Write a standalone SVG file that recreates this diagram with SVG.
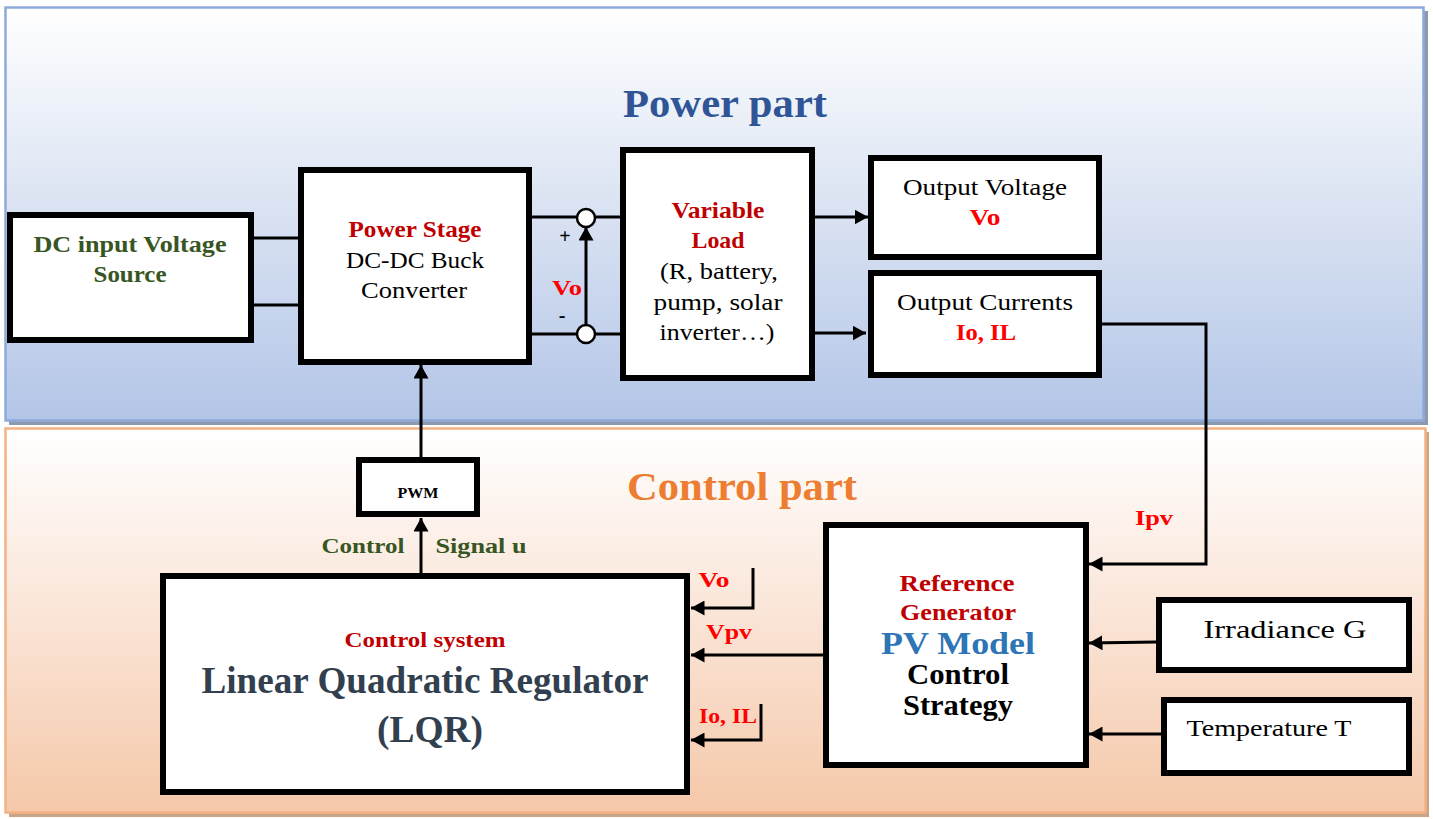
<svg xmlns="http://www.w3.org/2000/svg" width="1433" height="819" viewBox="0 0 1433 819">
<defs>
<linearGradient id="gBlue" x1="0" y1="0" x2="0" y2="1">
<stop offset="0" stop-color="#ffffff"/>
<stop offset="0.5" stop-color="#d9e2f2"/>
<stop offset="1" stop-color="#b3c5e7"/>
</linearGradient>
<linearGradient id="gPeach" x1="0" y1="0" x2="0" y2="1">
<stop offset="0" stop-color="#ffffff"/>
<stop offset="0.5" stop-color="#fae4d6"/>
<stop offset="1" stop-color="#f5c8a9"/>
</linearGradient>
<marker id="arr" viewBox="0 0 10 10" preserveAspectRatio="none" refX="10" refY="5" markerWidth="4.5" markerHeight="5" markerUnits="strokeWidth" orient="auto">
<path d="M0,0 L10,5 L0,10 z" fill="#000"/>
</marker>
</defs>
<style>
.box{fill:#fff;stroke:#000;stroke-width:6}
.ln{fill:none;stroke:#000;stroke-width:3}
.t{font-family:"Liberation Serif","DejaVu Serif",serif;text-anchor:middle}
.b{font-weight:bold}
.red{fill:#c00000}
.rr{fill:#ff0000;font-weight:bold;font-size:21px}
</style>
<rect width="1433" height="819" fill="#ffffff"/>
<g id="power-panel">
<rect x="9" y="11" width="1419" height="414" fill="#8c99ae"/>
<rect x="5.5" y="7.5" width="1418" height="413" fill="url(#gBlue)" stroke="#8eaadb" stroke-width="2.5"/>
<text class="t b" x="725" y="117" font-size="39" fill="#2f5597" textLength="204" lengthAdjust="spacingAndGlyphs">Power part</text>
</g>
<g id="control-panel">
<rect x="9" y="432" width="1420" height="385" fill="#c8a48a"/>
<rect x="5.5" y="428.5" width="1420" height="384" fill="url(#gPeach)" stroke="#f4b183" stroke-width="2.5"/>
<text class="t b" x="742" y="500" font-size="39" fill="#ed7d31" textLength="230" lengthAdjust="spacingAndGlyphs">Control part</text>
</g>
<g id="connectors">
<line class="ln" x1="251" y1="238" x2="298" y2="238"/>
<line class="ln" x1="251" y1="305" x2="298" y2="305"/>
<line class="ln" x1="530" y1="217" x2="620" y2="217"/>
<line class="ln" x1="530" y1="334" x2="620" y2="334"/>
<line class="ln" x1="586" y1="334" x2="586" y2="227" marker-end="url(#arr)"/>
<circle cx="586" cy="218" r="9" fill="#fff" stroke="#000" stroke-width="2.5"/>
<circle cx="586" cy="334" r="9" fill="#fff" stroke="#000" stroke-width="2.5"/>
<line class="ln" x1="815" y1="217" x2="868" y2="217" marker-end="url(#arr)"/>
<line class="ln" x1="815" y1="333" x2="866" y2="333" marker-end="url(#arr)"/>
<polyline class="ln" points="1102,324 1206,324 1206,564 1089,564" marker-end="url(#arr)"/>
<line class="ln" x1="421" y1="475" x2="421" y2="365" marker-end="url(#arr)"/>
<line class="ln" x1="421" y1="576" x2="421" y2="518" marker-end="url(#arr)"/>
<polyline class="ln" points="753,568 753,608 691,608" marker-end="url(#arr)"/>
<line class="ln" x1="825" y1="655" x2="691" y2="655" marker-end="url(#arr)"/>
<polyline class="ln" points="761,704 761,740 691,740" marker-end="url(#arr)"/>
<line class="ln" x1="1156" y1="642" x2="1089" y2="643" marker-end="url(#arr)"/>
<line class="ln" x1="1161" y1="734" x2="1089" y2="734" marker-end="url(#arr)"/>
<text class="t b" x="565" y="243" font-size="20">+</text>
<text class="t b" x="562" y="322" font-size="20">-</text>
<text class="t rr" x="567" y="295" textLength="30" lengthAdjust="spacingAndGlyphs">Vo</text>
<text class="t rr" x="1154" y="525" textLength="38" lengthAdjust="spacingAndGlyphs">Ipv</text>
<text class="t rr" x="714" y="587" textLength="31" lengthAdjust="spacingAndGlyphs">Vo</text>
<text class="t rr" x="729" y="639" textLength="46" lengthAdjust="spacingAndGlyphs">Vpv</text>
<text class="t rr" x="728" y="723" textLength="58" lengthAdjust="spacingAndGlyphs">Io, IL</text>
<text class="t b" x="363" y="553" font-size="22" fill="#375623" textLength="83" lengthAdjust="spacingAndGlyphs">Control</text>
<text class="t b" x="481" y="553" font-size="22" fill="#375623" textLength="91" lengthAdjust="spacingAndGlyphs">Signal u</text>
</g>
<g id="dc-source">
<rect class="box" x="10" y="215" width="241" height="125"/>
<text class="t b" x="130" y="252" font-size="23" fill="#375623" textLength="193" lengthAdjust="spacingAndGlyphs">DC input Voltage</text>
<text class="t b" x="130" y="282" font-size="23" fill="#375623" textLength="73" lengthAdjust="spacingAndGlyphs">Source</text>
</g>
<g id="power-stage">
<rect class="box" x="301" y="170" width="228" height="192"/>
<text class="t b red" x="415" y="237" font-size="23" textLength="133" lengthAdjust="spacingAndGlyphs">Power Stage</text>
<text class="t" x="415" y="268" font-size="23" textLength="138" lengthAdjust="spacingAndGlyphs">DC-DC Buck</text>
<text class="t" x="414" y="298" font-size="23" textLength="106" lengthAdjust="spacingAndGlyphs">Converter</text>
</g>
<g id="variable-load">
<rect class="box" x="623" y="150" width="189" height="228"/>
<text class="t b red" x="718" y="218" font-size="23" textLength="93" lengthAdjust="spacingAndGlyphs">Variable</text>
<text class="t b red" x="718" y="248" font-size="23" textLength="53" lengthAdjust="spacingAndGlyphs">Load</text>
<text class="t" x="719" y="279" font-size="23" textLength="118" lengthAdjust="spacingAndGlyphs">(R, battery,</text>
<text class="t" x="718" y="310" font-size="23" textLength="129" lengthAdjust="spacingAndGlyphs">pump, solar</text>
<text class="t" x="717" y="340" font-size="23" textLength="115" lengthAdjust="spacingAndGlyphs">inverter…)</text>
</g>
<g id="output-voltage">
<rect class="box" x="871" y="158" width="228" height="99"/>
<text class="t" x="985" y="195" font-size="23" textLength="164" lengthAdjust="spacingAndGlyphs">Output Voltage</text>
<text class="t b" x="985" y="225" font-size="23" fill="#ff0000" textLength="31" lengthAdjust="spacingAndGlyphs">Vo</text>
</g>
<g id="output-currents">
<rect class="box" x="871" y="273" width="228" height="102"/>
<text class="t" x="985" y="310" font-size="23" textLength="176" lengthAdjust="spacingAndGlyphs">Output Currents</text>
<text class="t b" x="986" y="340" font-size="23" fill="#ff0000" textLength="60" lengthAdjust="spacingAndGlyphs">Io, IL</text>
</g>
<g id="pwm">
<rect class="box" x="359" y="460" width="118" height="54"/>
<text class="t b" x="418" y="498" font-size="14" textLength="41" lengthAdjust="spacingAndGlyphs">PWM</text>
</g>
<g id="lqr">
<rect class="box" x="163" y="576" width="524" height="216"/>
<text class="t b red" x="425" y="647" font-size="22" textLength="161" lengthAdjust="spacingAndGlyphs">Control system</text>
<text class="t b" x="425" y="693" font-size="37" fill="#323f4f" textLength="447" lengthAdjust="spacingAndGlyphs">Linear Quadratic Regulator</text>
<text class="t b" x="430" y="742" font-size="37" fill="#323f4f" textLength="106" lengthAdjust="spacingAndGlyphs">(LQR)</text>
</g>
<g id="reference-generator">
<rect class="box" x="826" y="525" width="260" height="240"/>
<text class="t b red" x="957" y="591" font-size="23" textLength="115" lengthAdjust="spacingAndGlyphs">Reference</text>
<text class="t b red" x="958" y="620" font-size="23" textLength="116" lengthAdjust="spacingAndGlyphs">Generator</text>
<text class="t b" x="958" y="654" font-size="31" fill="#2e75b6" textLength="154" lengthAdjust="spacingAndGlyphs">PV Model</text>
<text class="t b" x="958" y="684" font-size="29" textLength="102" lengthAdjust="spacingAndGlyphs">Control</text>
<text class="t b" x="958" y="715" font-size="29" textLength="110" lengthAdjust="spacingAndGlyphs">Strategy</text>
</g>
<g id="irradiance">
<rect class="box" x="1159" y="600" width="250" height="70"/>
<text class="t" x="1285" y="638" font-size="26" textLength="163" lengthAdjust="spacingAndGlyphs">Irradiance G</text>
</g>
<g id="temperature">
<rect class="box" x="1164" y="700" width="245" height="73"/>
<text class="t" x="1269" y="736" font-size="24" textLength="165" lengthAdjust="spacingAndGlyphs">Temperature T</text>
</g>
</svg>
